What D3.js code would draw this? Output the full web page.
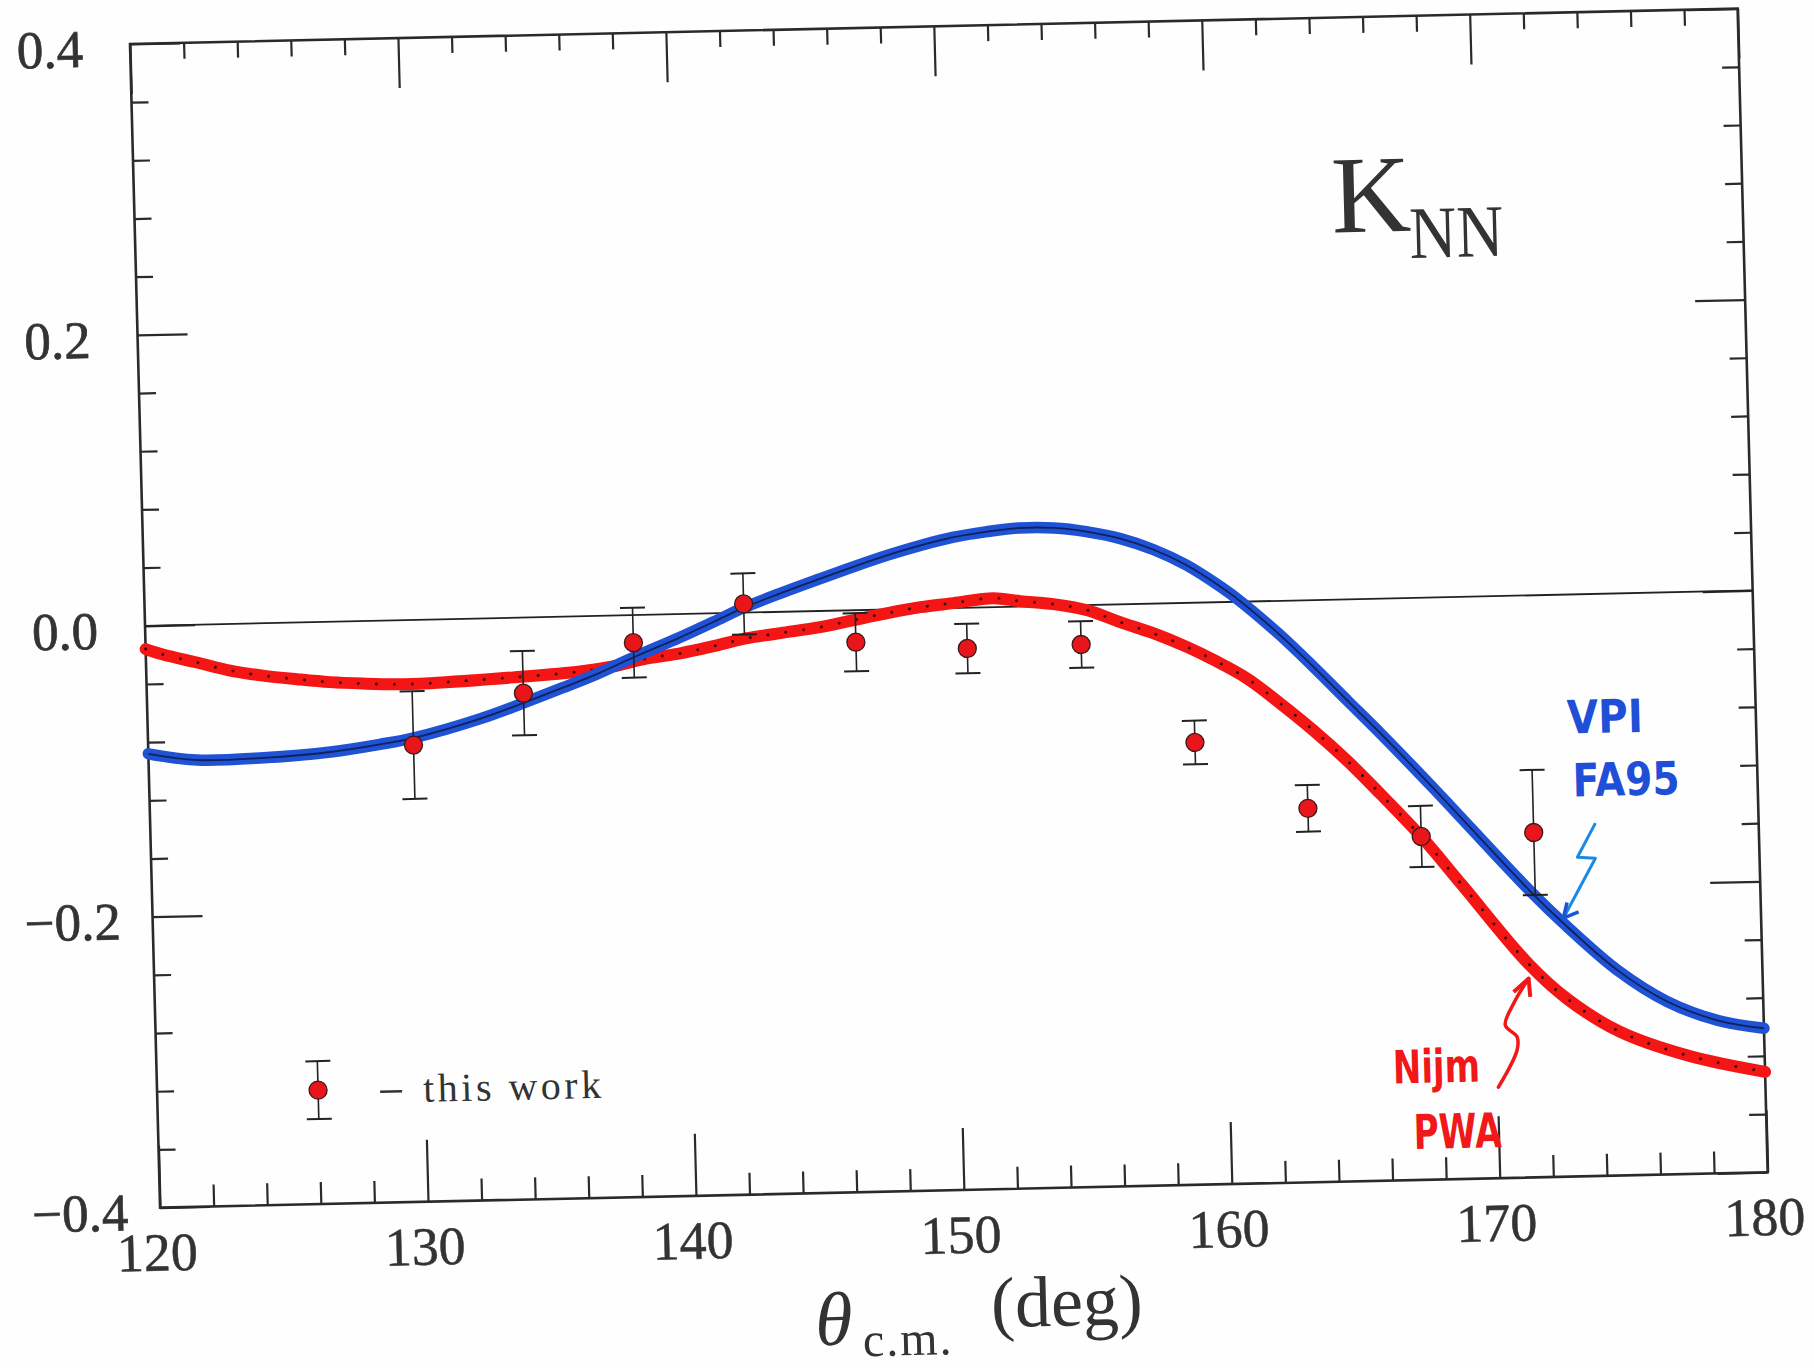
<!DOCTYPE html>
<html><head><meta charset="utf-8">
<script src="https://cdn.jsdelivr.net/npm/d3@7"></script>
<style>body{margin:0;background:#fff;} svg{display:block;}</style>
</head><body>
<svg id="chart" width="1814" height="1368"></svg>
<script>
// ---- data ----
const xMajorTicks = [120, 130, 140, 150, 160, 170, 180];
const xTickLabels = ["120", "130", "140", "150", "160", "170", "180"];
const yMajorTicks = [0.4, 0.2, 0.0, -0.2, -0.4];
const yTickLabels = ["0.4", "0.2", "0.0", "\u22120.2", "\u22120.4"];

// measured points ("this work")
const dataTheta = [129.9, 134.05, 138.2, 142.35, 146.5, 150.65, 154.9, 159.05, 163.2, 167.4, 171.6];
const dataK     = [-0.086, -0.052, -0.019, 0.006, -0.022, -0.028, -0.027, -0.096, -0.143, -0.164, -0.163];
const dataErr   = [0.037, 0.029, 0.024, 0.021, 0.020, 0.017, 0.016, 0.015, 0.016, 0.021, 0.043];

// VPI FA95 curve
const vpiTheta = [120, 121.8, 124.3, 126.8, 128.65, 129.93, 132.4, 134.0, 135.5, 136.8, 138.2, 139.95, 141.2, 142.3,
                  143.7, 145.2, 146.5, 147.8, 149.0, 150.2, 151.5, 152.7, 154.0, 155.2, 156.5, 157.7, 158.9, 160.2,
                  160.9, 162.3, 163.5, 164.8, 166.0, 167.9, 171.4, 172.8, 174.6, 176.4, 178.3, 180];
const vpiK     = [-0.088, -0.093, -0.0925, -0.0895, -0.085, -0.081, -0.069, -0.059, -0.049, -0.040, -0.029, -0.016, -0.006, 0.003,
                  0.0125, 0.022, 0.030, 0.0375, 0.0435, 0.0485, 0.052, 0.054, 0.0535, 0.0505, 0.045, 0.037, 0.026, 0.010,
                  0.000, -0.023, -0.045, -0.070, -0.093, -0.131, -0.203, -0.229, -0.259, -0.281, -0.295, -0.301];

// Nijmegen PWA curve
const nijmTheta = [120, 120.64, 121.9, 123.13, 124.35, 125.62, 126.85, 128.08, 129.35, 130.58, 133.68, 136.19, 137.42,
                   138.70, 139.94, 141.18, 142.45, 143.7, 145.18, 146.43, 147.7, 148.94, 150.17, 151.67, 152.67, 153.9,
                   155.16, 156.38, 157.6, 158.86, 159.82, 161.07, 162.27, 163.48, 164.72, 165.91, 167.44, 168.92,
                   171.27, 172.7, 174.6, 177.2, 180];
const nijmK     = [-0.016, -0.020, -0.026, -0.032, -0.036, -0.039, -0.0415, -0.043, -0.044, -0.0437, -0.041, -0.038, -0.035,
                   -0.030, -0.027, -0.0226, -0.0176, -0.0146, -0.0111, -0.0068, -0.0025, 0.0011, 0.0034, 0.0062, 0.0037, 0.0012,
                   -0.0035, -0.0122, -0.0203, -0.0304, -0.0395, -0.053, -0.0705, -0.0895, -0.111, -0.134, -0.165, -0.199,
                   -0.253, -0.278, -0.301, -0.319, -0.331];

// ---- layout ----
const W = 1608, H = 1164;
const ink = "#2a2a2a";
const serif = "'Liberation Serif', 'DejaVu Serif', serif";

const svg = d3.select("#chart");
svg.append("rect").attr("width", 1814).attr("height", 1368).attr("fill", "#fefefe");

// the scanned figure is slightly rotated
const g = svg.append("g").attr("transform", "translate(130,44) rotate(-1.26) skewX(0.22)");

const x = d3.scaleLinear().domain([120, 180]).range([0, W]);
const y = d3.scaleLinear().domain([-0.4, 0.4]).range([H, 0]);

const xMinor = d3.range(120, 180.01, 2).filter(v => Math.abs(v % 10) > 1e-6);
const yMinor = d3.range(-0.4, 0.4001, 0.04).map(v => +v.toFixed(2)).filter(v => Math.abs((v * 100) % 20) > 1e-6);

function tickAxis(axis, transform) {
  const a = g.append("g").attr("transform", transform).call(axis);
  a.select(".domain").remove();
  a.selectAll("text").remove();
  a.selectAll("line").attr("stroke", ink).attr("stroke-width", 2.2);
  return a;
}
// bottom
tickAxis(d3.axisBottom(x).tickValues(xMajorTicks).tickSize(-62), `translate(0,${H})`);
tickAxis(d3.axisBottom(x).tickValues(xMinor).tickSize(-22), `translate(0,${H})`);
// top
tickAxis(d3.axisTop(x).tickValues(xMajorTicks).tickSize(-50), "translate(0,0)");
tickAxis(d3.axisTop(x).tickValues(xMinor).tickSize(-16), "translate(0,0)");
// left
tickAxis(d3.axisLeft(y).tickValues(yMajorTicks).tickSize(-50), "translate(0,0)");
tickAxis(d3.axisLeft(y).tickValues(yMinor).tickSize(-17), "translate(0,0)");
// right
tickAxis(d3.axisRight(y).tickValues(yMajorTicks).tickSize(-50), `translate(${W},0)`);
tickAxis(d3.axisRight(y).tickValues(yMinor).tickSize(-17), `translate(${W},0)`);

// frame
g.append("rect").attr("x", 0).attr("y", 0).attr("width", W).attr("height", H)
  .attr("fill", "none").attr("stroke", ink).attr("stroke-width", 2.6);

// zero line
g.append("line").attr("x1", x(120)).attr("x2", x(180)).attr("y1", y(0)).attr("y2", y(0))
  .attr("stroke", "#222").attr("stroke-width", 1.8);

// tick labels
g.append("g").selectAll("text").data(xMajorTicks).join("text")
  .attr("x", d => x(d) - 4).attr("y", H + 63)
  .attr("text-anchor", "middle").attr("font-family", serif).attr("font-size", 54)
  .attr("fill", "#333").attr("stroke", "#333").attr("stroke-width", 0.5)
  .text((d, i) => xTickLabels[i]);

g.append("g").selectAll("text").data(yMajorTicks).join("text")
  .attr("x", d => d < 0 ? -32 : -47).attr("y", d => y(d) + 22)
  .attr("text-anchor", "end").attr("font-family", serif).attr("font-size", 53)
  .attr("fill", "#333").attr("stroke", "#333").attr("stroke-width", 0.7)
  .text((d, i) => yTickLabels[i]);

// axis title
g.append("text").attr("x", 652).attr("y", 1316).attr("font-family", serif)
  .attr("font-style", "italic").attr("font-size", 76).attr("fill", "#333").text("\u03B8");
g.append("text").attr("x", 699).attr("y", 1328).attr("font-family", serif)
  .attr("font-size", 48).attr("letter-spacing", 2).attr("fill", "#333").text("c.m.");
g.append("text").attr("x", 828).attr("y", 1302).attr("font-family", serif)
  .attr("font-size", 72).attr("fill", "#333").text("(deg)");

// K_NN label
g.append("text").attr("x", 1197).attr("y", 215).attr("font-family", serif)
  .attr("font-size", 110).attr("fill", "#333").text("K");
g.append("text").attr("x", 1274).attr("y", 242).attr("font-family", serif)
  .attr("font-size", 74).attr("fill", "#333")
  .attr("textLength", 94).attr("lengthAdjust", "spacingAndGlyphs").text("NN");

// curves
const line = d3.line().x(d => x(d[0])).y(d => y(d[1])).curve(d3.curveCatmullRom.alpha(0.5));
const vpi = d3.zip(vpiTheta, vpiK);
const nijm = d3.zip(nijmTheta, nijmK);

g.append("path").datum(nijm).attr("d", line).attr("fill", "none")
  .attr("stroke", "#f41515").attr("stroke-width", 12).attr("stroke-linecap", "round");
g.append("path").datum(nijm).attr("d", line).attr("fill", "none")
  .attr("stroke", "#3a0a0a").attr("stroke-width", 3).attr("stroke-linecap", "round")
  .attr("stroke-dasharray", "0 18");

g.append("path").datum(vpi).attr("d", line).attr("fill", "none")
  .attr("stroke", "#1f52d4").attr("stroke-width", 11.5).attr("stroke-linecap", "round");
g.append("path").datum(vpi).attr("d", line).attr("fill", "none")
  .attr("stroke", "#0d1a45").attr("stroke-width", 1.8).attr("opacity", 0.85);

// data points with error bars
const pts = d3.range(dataTheta.length).map(i => ({t: dataTheta[i], k: dataK[i], e: dataErr[i]}));
const pg = g.append("g");
pg.selectAll("line.bar").data(pts).join("line").attr("class", "bar")
  .attr("x1", d => x(d.t)).attr("x2", d => x(d.t))
  .attr("y1", d => y(d.k + d.e)).attr("y2", d => y(d.k - d.e))
  .attr("stroke", "#222").attr("stroke-width", 1.6);
pg.selectAll("line.capt").data(pts).join("line").attr("class", "capt")
  .attr("x1", d => x(d.t) - 12.5).attr("x2", d => x(d.t) + 12.5)
  .attr("y1", d => y(d.k + d.e)).attr("y2", d => y(d.k + d.e))
  .attr("stroke", "#222").attr("stroke-width", 2);
pg.selectAll("line.capb").data(pts).join("line").attr("class", "capb")
  .attr("x1", d => x(d.t) - 12.5).attr("x2", d => x(d.t) + 12.5)
  .attr("y1", d => y(d.k - d.e)).attr("y2", d => y(d.k - d.e))
  .attr("stroke", "#222").attr("stroke-width", 2);
pg.selectAll("circle").data(pts).join("circle")
  .attr("cx", d => x(d.t)).attr("cy", d => y(d.k)).attr("r", 9)
  .attr("fill", "#e8161b").attr("stroke", "#3a1a1a").attr("stroke-width", 1.3);

// legend
const lg = g.append("g");
lg.append("line").attr("x1", 161).attr("x2", 161).attr("y1", 1021).attr("y2", 1079)
  .attr("stroke", "#222").attr("stroke-width", 1.6);
lg.append("line").attr("x1", 149).attr("x2", 174).attr("y1", 1021).attr("y2", 1021)
  .attr("stroke", "#222").attr("stroke-width", 2);
lg.append("line").attr("x1", 149).attr("x2", 174).attr("y1", 1079).attr("y2", 1079)
  .attr("stroke", "#222").attr("stroke-width", 2);
lg.append("circle").attr("cx", 161).attr("cy", 1050).attr("r", 9)
  .attr("fill", "#e8161b").attr("stroke", "#3a1a1a").attr("stroke-width", 1.3);
lg.append("line").attr("x1", 223).attr("x2", 245).attr("y1", 1053).attr("y2", 1053)
  .attr("stroke", "#333").attr("stroke-width", 2.5);
lg.append("text").attr("x", 266).attr("y", 1064).attr("font-family", serif)
  .attr("font-size", 40).attr("letter-spacing", 3.5).attr("fill", "#333").text("this work");

// hand-written annotations
const hand = "'DejaVu Sans', sans-serif";
g.append("text").attr("x", 1419).attr("y", 721).attr("font-family", hand).attr("font-weight", "bold")
  .attr("font-size", 46).attr("fill", "#1f4fd6").attr("textLength", 76)
  .attr("lengthAdjust", "spacingAndGlyphs").text("VPI");
g.append("text").attr("x", 1423).attr("y", 784).attr("font-family", hand).attr("font-weight", "bold")
  .attr("font-size", 46).attr("fill", "#1f4fd6").attr("textLength", 107)
  .attr("lengthAdjust", "spacingAndGlyphs").text("FA95");
g.append("text").attr("x", 1236).attr("y", 1067).attr("font-family", hand).attr("font-weight", "bold")
  .attr("font-size", 46).attr("fill", "#f01818").attr("textLength", 87)
  .attr("lengthAdjust", "spacingAndGlyphs").text("Nijm");
g.append("text").attr("x", 1255).attr("y", 1133).attr("font-family", hand).attr("font-weight", "bold")
  .attr("font-size", 48).attr("fill", "#f01818").attr("textLength", 88)
  .attr("lengthAdjust", "spacingAndGlyphs").text("PWA");

// arrows
const straight = d3.line();
g.append("path").attr("d", straight([[1444.8, 811.2], [1425.9, 844.8], [1443.9, 846.2], [1410.3, 905.5]]))
  .attr("fill", "none").attr("stroke", "#1a8ae6").attr("stroke-width", 3).attr("stroke-linejoin", "round");
g.append("path").attr("d", straight([[1414.4, 889.9], [1410.3, 905.5], [1425.7, 899.6]]))
  .attr("fill", "none").attr("stroke", "#1f52d4").attr("stroke-width", 3.5).attr("stroke-linejoin", "round");

const smooth = d3.line().curve(d3.curveCatmullRom.alpha(0.5));
g.append("path").attr("d", smooth([[1341, 1073], [1360.6, 1036.5], [1361, 1023.2], [1349.5, 1011.2], [1358.4, 989.7], [1374, 965.1]]))
  .attr("fill", "none").attr("stroke", "#f01818").attr("stroke-width", 3.5).attr("stroke-linecap", "round");
g.append("path").attr("d", straight([[1358.7, 978.1], [1374, 965.1], [1375.2, 983.5]]))
  .attr("fill", "none").attr("stroke", "#f01818").attr("stroke-width", 4).attr("stroke-linejoin", "round");
</script>
</body></html>
